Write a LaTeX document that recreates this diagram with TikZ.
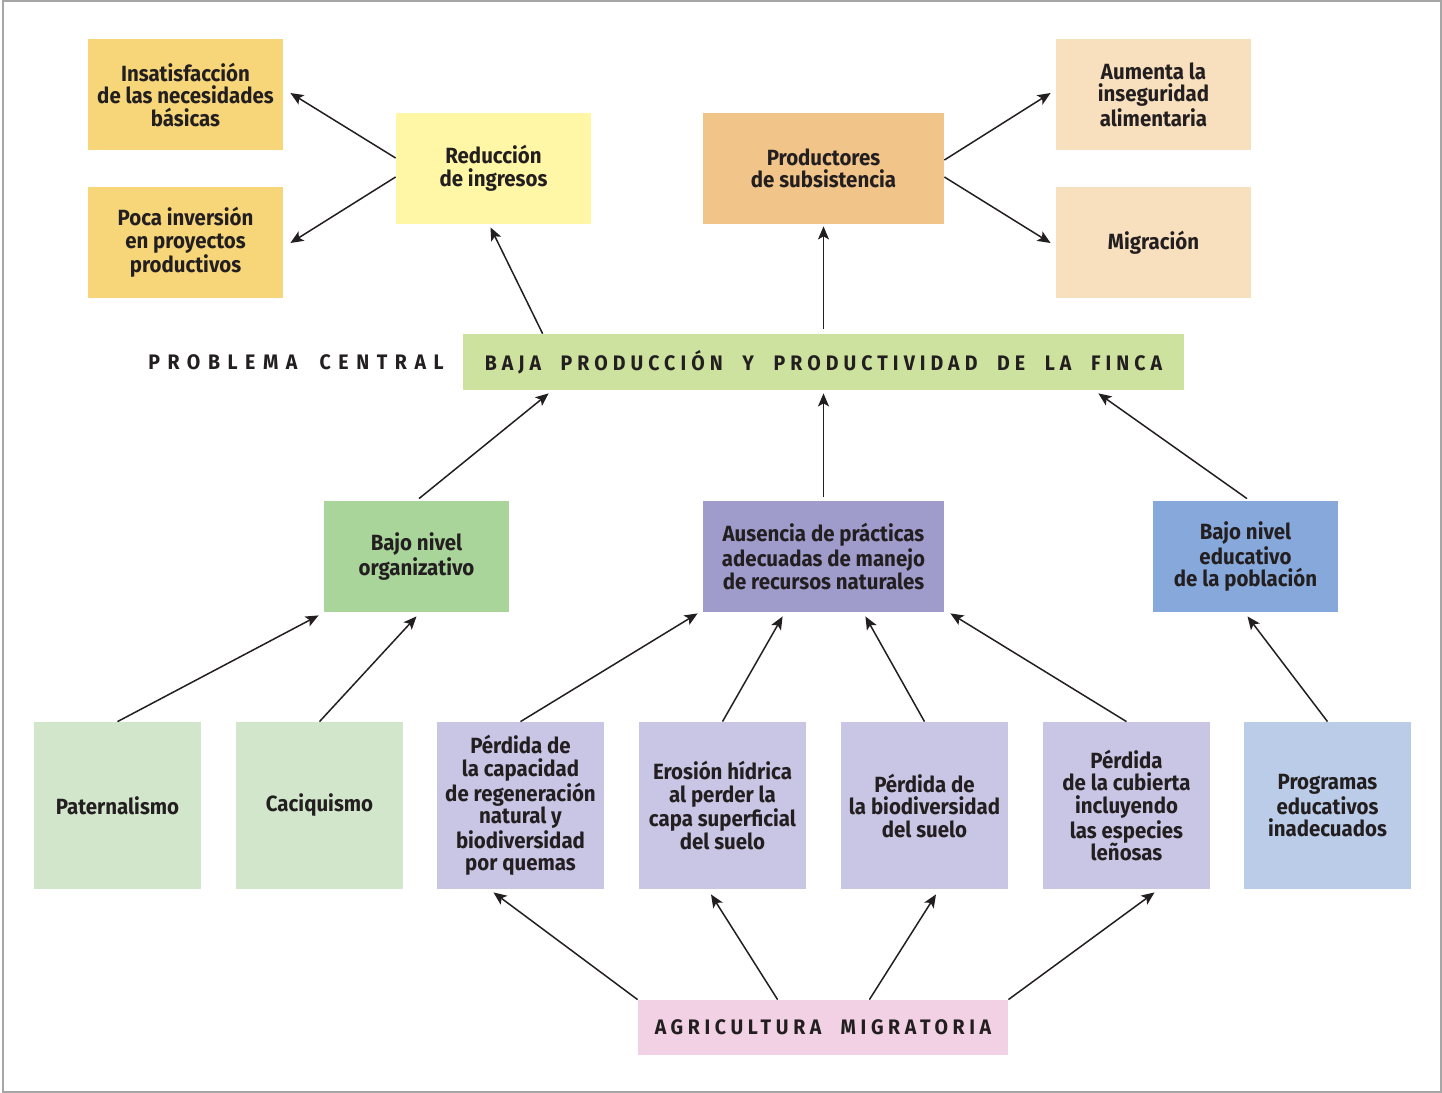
\documentclass[tikz,border=0pt]{standalone}
\usepackage{fontspec}
\setmainfont{Fira Sans}[FakeStretch=0.93]
\usetikzlibrary{arrows.meta,calc}

\definecolor{ink}{HTML}{231F20}
\definecolor{oro}{HTML}{F7D67A}
\definecolor{limon}{HTML}{FFF6A6}
\definecolor{naranja}{HTML}{F1C489}
\definecolor{durazno}{HTML}{F8DFBD}
\definecolor{lima}{HTML}{CDE29E}
\definecolor{verde}{HTML}{A9D49A}
\definecolor{lila}{HTML}{9F9BCB}
\definecolor{azul}{HTML}{87A8DA}
\definecolor{verdeclaro}{HTML}{D1E6CA}
\definecolor{lilaclaro}{HTML}{C9C5E4}
\definecolor{azulclaro}{HTML}{BBCCE9}
\definecolor{rosa}{HTML}{F3D1E4}

\begin{document}
\begin{tikzpicture}[x=0.5pt, y=-0.5pt,
    box/.style n args={3}{fill=#1, minimum width=#2, minimum height=#3, inner sep=0pt,
        align=center, text=ink, font=\bfseries\fontsize{11}{11.25}\selectfont},
    spaced/.style={text=ink, inner sep=0pt,
        font=\bfseries\fontsize{10.5}{12}\selectfont\addfontfeature{LetterSpace=#1}},
    arr/.style={draw=ink, line width=0.75pt, -{Stealth[length=6.5pt,width=5.5pt,inset=1.5pt]}}]
    \useasboundingbox (0,0) rectangle (1442,1093);
    \draw[gray!70, line width=1pt] (2.5,0.5) rectangle (1440.5,1091.5);

    % efectos
    \node[box={oro}{97.5pt}{55.5pt}] (ins) at (185.5,94.5) {Insatisfacción\\de las necesidades\\básicas};
    \node[box={oro}{97.5pt}{55.5pt}] (poc) at (185.5,242.5) {Poca inversión\\en proyectos\\productivos};
    \node[box={limon}{97.5pt}{55.5pt}] (red) at (493.5,168.5) {Reducción\\de ingresos};
    \node[box={naranja}{120.5pt}{55.5pt}] (prod) at (823.5,168.5) {Productores\\de subsistencia};
    \node[box={durazno}{97.5pt}{55.5pt}] (aum) at (1153.5,94.5) {Aumenta la\\inseguridad\\alimentaria};
    \node[box={durazno}{97.5pt}{55.5pt}] (mig) at (1153.5,242.5) {Migración};

    % problema central
    \node[spaced=36] (pc) at (296,362) {PROBLEMA\hspace{5pt} CENTRAL};
    \node[box={lima}{360.5pt}{28pt}, spaced=24] (baja) at (823.5,362) {BAJA\hspace{5pt} PRODUCCIÓN\hspace{5pt} Y\hspace{5pt} PRODUCTIVIDAD\hspace{5pt} DE\hspace{5pt} LA\hspace{5pt} FINCA};

    % causas
    \node[box={verde}{92.5pt}{55.5pt}] (org) at (416.5,556.5) {Bajo nivel\\organizativo};
    \node[box={lila}{120.5pt}{55.5pt}] (aus) at (823.5,556.5) {Ausencia de prácticas\\adecuadas de manejo\\de recursos naturales};
    \node[box={azul}{92.5pt}{55.5pt}] (edu) at (1245.5,556.5) {Bajo nivel\\educativo\\de la población};

    \foreach \n/\x/\c/\t in {
        pat/117.5/verdeclaro/Paternalismo,
        cac/319.5/verdeclaro/Caciquismo,
        pcap/520.5/lilaclaro/Pérdida de\\la capacidad\\de regeneración\\natural y\\biodiversidad\\por quemas,
        ero/722.5/lilaclaro/Erosión hídrica\\al perder la\\capa superficial\\del suelo,
        pbio/924.5/lilaclaro/Pérdida de\\la biodiversidad\\del suelo,
        pcub/1126.5/lilaclaro/Pérdida\\de la cubierta\\incluyendo\\las especies\\leñosas,
        prog/1327.5/azulclaro/Programas\\educativos\\inadecuados
    }
    {
        \node[box={\c}{83.5pt}{83.5pt}] (\n) at (\x,805.5) {\t};
    }

    \node[box={rosa}{185pt}{27.5pt}, spaced=22] (agr) at (823,1027.5) {AGRICULTURA\hspace{5pt} MIGRATORIA};

    % flechas superiores
    \draw[arr] ($(red.west)+(0,-10.5)$) -- ($(ins.east)+(7,-1.5)$);
    \draw[arr] ($(red.west)+(0,8.5)$) -- ($(poc.east)+(7,0.5)$);
    \draw[arr] ($(baja.north west)+(80,0)$) -- ($(red.south)+(-3,3)$);
    \draw[arr] ($(baja.north)+(0,-5)$) -- ($(prod.south)+(0,2)$);
    \draw[arr] ($(prod.east)+(0,-8.5)$) -- ($(aum.west)+(-5,-1.5)$);
    \draw[arr] ($(prod.east)+(0,8.5)$) -- ($(mig.west)+(-5,0.5)$);

    % flechas hacia el problema
    \draw[arr] ($(org.north)+(2.5,-2)$) -- ($(baja.south west)+(86,3)$);
    \draw[arr] ($(aus.north)+(0,-4)$) -- ($(baja.south)+(0,3)$);
    \draw[arr] ($(edu.north)+(1.5,-2)$) -- ($(baja.south east)+(-86,3)$);

    % flechas desde las causas secundarias
    \draw[arr] (pat.north) -- ($(org.south west)+(-5,3)$);
    \draw[arr] (cac.north) -- ($(org.south)+(0,4)$);
    \draw[arr] (pcap.north) -- ($(aus.south west)+(-5,1)$);
    \draw[arr] (ero.north) -- ($(aus.south west)+(80,4)$);
    \draw[arr] (pbio.north) -- ($(aus.south east)+(-79,4)$);
    \draw[arr] (pcub.north) -- ($(aus.south east)+(6,1)$);
    \draw[arr] (prog.north) -- ($(edu.south)+(2,4)$);

    % agricultura migratoria
    \draw[arr] (agr.north west) -- ($(pcap.south)+(-27,3)$);
    \draw[arr] ($(agr.north west)+(140,0)$) -- ($(ero.south)+(-11.5,5)$);
    \draw[arr] ($(agr.north east)+(-139,0)$) -- ($(pbio.south)+(11.5,5)$);
    \draw[arr] (agr.north east) -- ($(pcub.south)+(28,3)$);
\end{tikzpicture}
\end{document}
